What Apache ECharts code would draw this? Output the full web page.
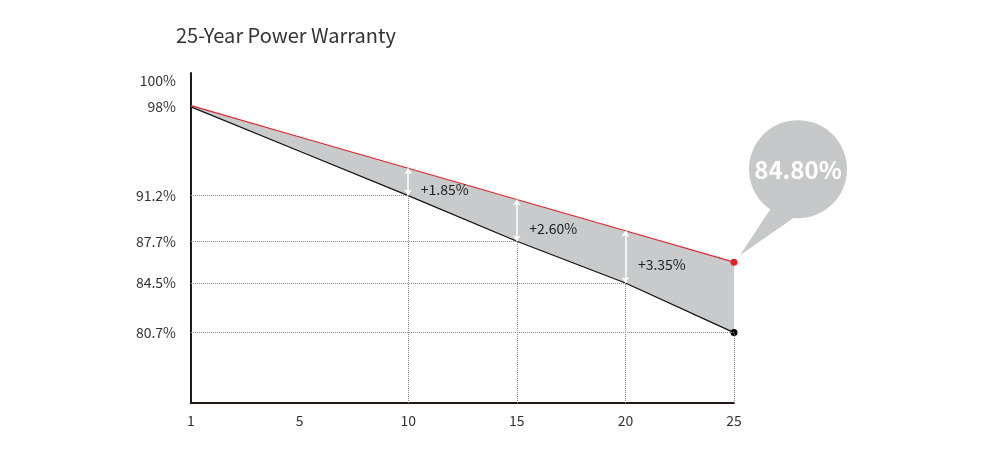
<!DOCTYPE html>
<html><head><meta charset="utf-8">
<script src="https://cdn.jsdelivr.net/npm/echarts@6/dist/echarts.min.js"></script>
<style>html,body{margin:0;padding:0;background:#fff}#c{width:990px;height:452px}</style>
</head><body><div id="c"></div>
<script>
// ---- data ----
const years = ['1', '5', '10', '15', '20', '25'];
const guaranteed = [98, 94.6, 91.2, 87.7, 84.5, 80.7];      // black line (industry standard)
const actual = [98.1, 95.7, 93.3, 90.9, 88.5, 86.1];        // red line, as drawn
const yTickValues = [100, 98, 91.2, 87.7, 84.5, 80.7];
const gapYears = ['10', '15', '20'];
const gapLabels = ['+1.85%', '+2.60%', '+3.35%'];
const finalLabel = '84.80%';
const titleText = '25-Year Power Warranty';

// ---- build ----
const FONT = '"Noto Sans CJK SC", "Noto Sans", sans-serif';
const Y_MIN = 75.3, Y_MAX = 100.6;
const last = years.length - 1;
const bandDiff = actual.map((v, i) => +(v - guaranteed[i]).toFixed(3));

const dottedLines = [];
guaranteed.forEach((g, i) => {
  if (i > 0 && yTickValues.indexOf(g) >= 0) {
    dottedLines.push([{ coord: [0, g] }, { coord: [i, g] }]);
    dottedLines.push([{ coord: [i, Y_MIN] }, { coord: [i, g] }]);
  }
});
const arrowLines = gapYears.map(y => {
  const i = years.indexOf(y);
  return [{ coord: [i, guaranteed[i]] }, { coord: [i, actual[i]] }];
});
const gapPoints = gapYears.map((y, k) => {
  const i = years.indexOf(y);
  return { coord: [i, (guaranteed[i] + actual[i]) / 2], value: gapLabels[k] };
});

const chart = echarts.init(document.getElementById('c'), null, { renderer: 'canvas' });
chart.setOption({
  animation: false,
  backgroundColor: '#fff',
  title: {
    text: titleText, left: 171, top: 20,
    textStyle: { fontFamily: FONT, fontSize: 20, fontWeight: 'normal', color: '#333' }
  },
  grid: { left: 191, right: 256, top: 73, bottom: 49 },
  xAxis: {
    type: 'category', data: years, boundaryGap: false,
    axisLine: { lineStyle: { color: '#231815', width: 2 } },
    axisTick: { show: false },
    axisLabel: { color: '#333', fontSize: 14, fontFamily: FONT, margin: 11 },
    splitLine: { show: false }
  },
  yAxis: {
    type: 'value', min: Y_MIN, max: Y_MAX,
    axisLine: { show: true, lineStyle: { color: '#231815', width: 2 } },
    axisTick: { show: false },
    splitLine: { show: false },
    axisLabel: {
      customValues: yTickValues, color: '#333', fontSize: 14, fontFamily: FONT, margin: 15,
      formatter: v => v + '%'
    }
  },
  series: [
    {
      name: 'base', type: 'line', data: guaranteed, stack: 'band', symbol: 'none', silent: true,
      lineStyle: { opacity: 0 },
      markLine: {
        silent: true, symbol: ['none', 'none'], label: { show: false },
        lineStyle: { type: 'dotted', color: '#8c8c8c', width: 1 },
        data: dottedLines
      }
    },
    {
      name: 'band', type: 'line', data: bandDiff, stack: 'band', symbol: 'none', silent: true,
      lineStyle: { opacity: 0 },
      areaStyle: { color: '#c8cacc', opacity: 1 }
    },
    {
      name: 'guaranteed', type: 'line', data: guaranteed, symbol: 'circle', showSymbol: true, z: 3,
      symbolSize: (v, p) => p.dataIndex === last ? 7 : 0,
      itemStyle: { color: '#000', borderWidth: 0 },
      lineStyle: { color: '#111', width: 1.3 }
    },
    {
      name: 'actual', type: 'line', data: actual, symbol: 'circle', showSymbol: true, z: 3,
      symbolSize: (v, p) => p.dataIndex === last ? 7 : 0,
      itemStyle: { color: '#e3232a', borderWidth: 0 },
      lineStyle: { color: '#e3232a', width: 1.1 },
      markLine: {
        silent: true, symbol: ['arrow', 'arrow'], symbolSize: 6, label: { show: false },
        lineStyle: { type: 'solid', color: '#ffffff', width: 1.5 },
        data: arrowLines
      },
      markPoint: {
        silent: true, symbol: 'rect', symbolSize: 1, itemStyle: { color: 'rgba(0,0,0,0)' },
        label: {
          show: true, position: 'right', distance: 0, offset: [12, 8],
          color: '#222', fontSize: 14, fontFamily: FONT,
          formatter: p => p.value
        },
        data: gapPoints
      }
    }
  ]
});

// callout bubble anchored to the last point of the red series
const p = chart.convertToPixel({ seriesIndex: 3 }, [last, actual[last]]);
chart.setOption({
  graphic: [{
    type: 'group', x: p[0], y: p[1], silent: true,
    children: [
      { type: 'polygon', shape: { points: [[6, -7], [37, -54], [62, -46]] }, style: { fill: '#c6c8ca' } },
      { type: 'circle', shape: { cx: 64, cy: -93, r: 49 }, style: { fill: '#c6c8ca' } },
      { type: 'text', x: 64, y: -92, style: {
          text: finalLabel, fill: '#fff', fontSize: 24, fontWeight: 'bold', fontFamily: FONT,
          align: 'center', verticalAlign: 'middle' } }
    ]
  }]
});
</script>
</body></html>
